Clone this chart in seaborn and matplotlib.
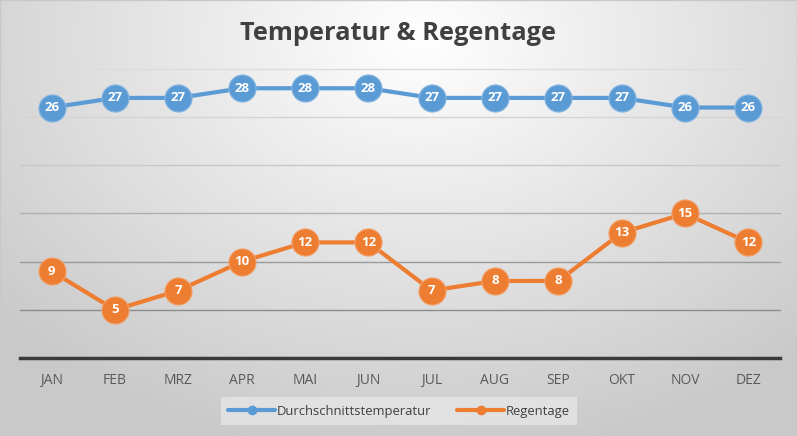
import matplotlib
matplotlib.use("Agg")
import matplotlib.pyplot as plt
from matplotlib.lines import Line2D
import seaborn as sns
import numpy as np
import pandas as pd

months = ["JAN", "FEB", "MRZ", "APR", "MAI", "JUN", "JUL", "AUG", "SEP", "OKT", "NOV", "DEZ"]
temperatur = [26, 27, 27, 28, 28, 28, 27, 27, 27, 27, 26, 26]
regentage = [9, 5, 7, 10, 12, 12, 7, 8, 8, 13, 15, 12]
series_names = ["Durchschnittstemperatur", "Regentage"]
colors = ["#5B9BD5", "#ED7D31"]
edge_colors = ["#86b6e2", "#f3a06a"]

sns.set_theme(style="white")
plt.rcParams['font.family'] = ['Open Sans', 'DejaVu Sans']

df = pd.DataFrame({
    "pos": list(range(len(months))) * 2,
    "value": temperatur + regentage,
    "series": [series_names[0]] * len(months) + [series_names[1]] * len(months),
})

fig = plt.figure(figsize=(7.97, 4.36), dpi=100)

# background: soft radial gradient like the Excel chart area
bg = fig.add_axes([0, 0, 1, 1], zorder=-10)
yy, xx = np.mgrid[0:436, 0:797]
r = np.sqrt(((xx - 420) / 560.0) ** 2 + ((yy - 40) / 420.0) ** 2)
shade = 1.0 - 0.21 * np.clip(r, 0, 1)
bg.imshow(np.dstack([shade] * 3), aspect="auto", extent=[0, 1, 0, 1])
bg.set_axis_off()
fig.patches.append(plt.Rectangle((0, 0), 1, 1, transform=fig.transFigure,
                                 fill=False, edgecolor="#c8c8c8", linewidth=1))

ax = fig.add_axes([20 / 797, 78 / 436, 760 / 797, 289 / 436])
ax.set_facecolor("none")

sns.lineplot(data=df, x="pos", y="value", hue="series", palette=colors,
             marker="o", markersize=19.5, linewidth=3, legend=False, ax=ax, zorder=3)
for ln, ec in zip(ax.lines, edge_colors):
    ln.set_markeredgecolor(ec)
    ln.set_markeredgewidth(0.8)
    ln.set_clip_on(False)

for vals in [temperatur, regentage]:
    for i, v in enumerate(vals):
        ax.text(i, v, str(v), ha="center", va="center", color="white",
                fontsize=9.5, fontweight="bold", zorder=5)

ax.set_xlim(-0.5, len(months) - 0.5)
ax.set_ylim(0, 30)
ax.set_yticks([5, 10, 15, 20, 25, 30])
ax.set_yticklabels([])
ax.tick_params(axis="y", length=0)
ax.yaxis.grid(True, linewidth=1)
grid_cols = ["#8c8c8c", "#9a9a9a", "#b0b0b0", "#c8c8c8", "#d4d4d4", "#dcdcdc"]
for gl, gc in zip(ax.get_ygridlines(), grid_cols):
    gl.set_color(gc)
    gl.set_clip_on(False)
ax.set_xticks(range(len(months)))
ax.set_xticklabels(months, color="#595959", fontsize=10)
ax.tick_params(axis="x", length=0, pad=11)
ax.set_xlabel("")
ax.set_ylabel("")
for side in ["top", "left", "right"]:
    ax.spines[side].set_visible(False)
ax.spines["bottom"].set_color("#3a3a3a")
ax.spines["bottom"].set_linewidth(2.5)

fig.text(0.5, 1 - 33 / 436, "Temperatur & Regentage", ha="center", va="center",
         fontsize=18.3, fontweight="bold", color="#404040")

handles = [Line2D([0], [0], color=c, linewidth=3, marker="o", markersize=6)
           for c in colors]
leg = fig.legend(handles, series_names, loc="center", bbox_to_anchor=(399 / 797, 1 - 411 / 436),
                 ncol=2, frameon=True, fontsize=9.4, handlelength=3.6, handletextpad=0.1,
                 columnspacing=2.0, borderpad=0.4)
leg.get_frame().set_facecolor("#e6e6e6")
leg.get_frame().set_edgecolor("none")
leg.get_frame().set_boxstyle("square", pad=0.2)
for t in leg.get_texts():
    t.set_color("#404040")

fig.savefig("out.png", dpi=100)
